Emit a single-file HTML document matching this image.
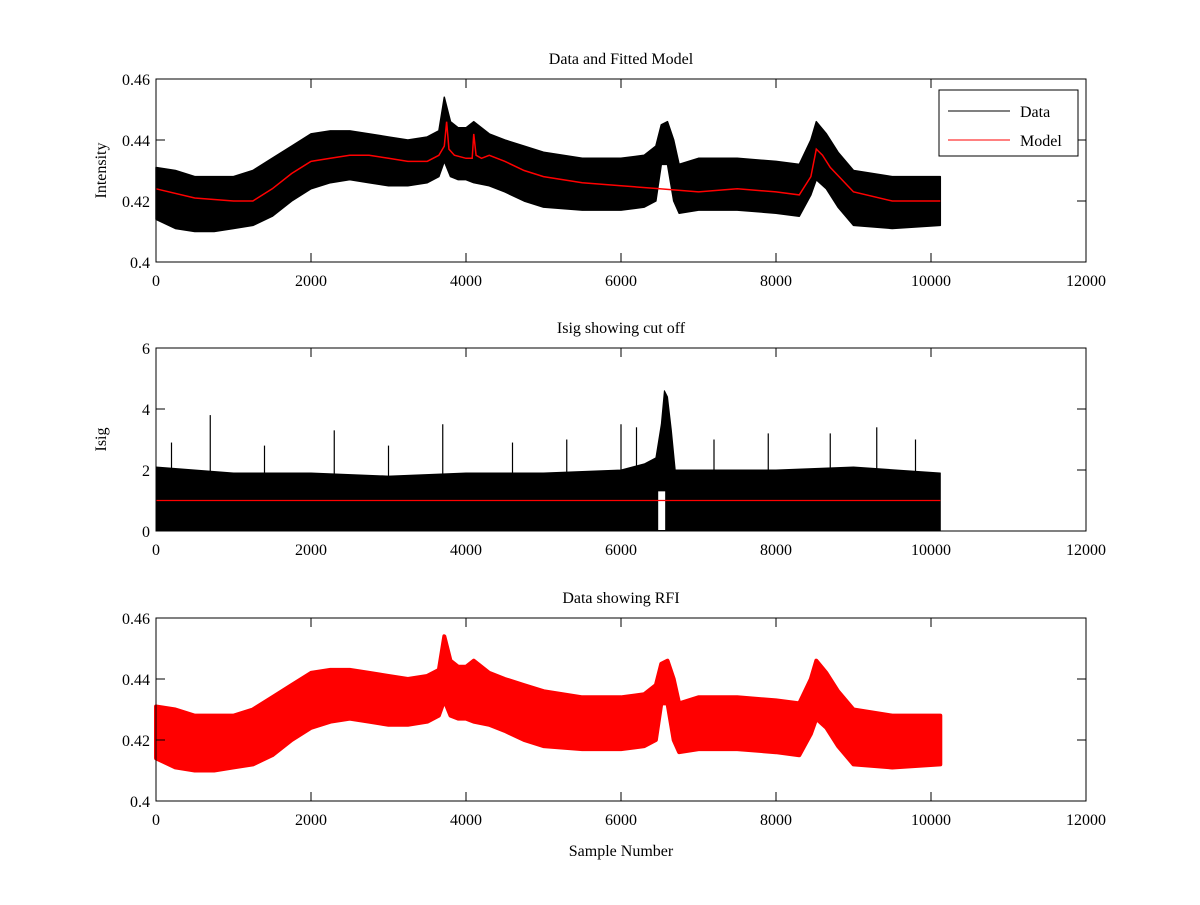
<!DOCTYPE html>
<html><head><meta charset="utf-8"><style>
body{margin:0;background:#fff}
svg text{font-family:"Liberation Serif",serif;font-size:16px;fill:#000}
</style></head><body>
<svg id="c" width="1200" height="900" xmlns="http://www.w3.org/2000/svg"></svg>
<script>
// ---- data ----
const xTicks=[0,2000,4000,6000,8000,10000,12000];
const intTicks=[0.4,0.42,0.44,0.46];
const isigTicks=[0,2,4,6];
const envX=[0,250,500,750,1000,1250,1500,1750,2000,2250,2500,2750,3000,3250,3500,3650,3720,3800,3900,4000,4100,4300,4500,4750,5000,5500,6000,6300,6450,6520,6600,6680,6750,7000,7500,8000,8300,8450,8520,8650,8800,9000,9500,10120];
const envUp=[0.431,0.430,0.428,0.428,0.428,0.430,0.434,0.438,0.442,0.443,0.443,0.442,0.441,0.440,0.441,0.443,0.454,0.446,0.444,0.444,0.446,0.442,0.440,0.438,0.436,0.434,0.434,0.435,0.438,0.445,0.446,0.440,0.432,0.434,0.434,0.433,0.432,0.440,0.446,0.442,0.436,0.430,0.428,0.428];
const envLo=[0.414,0.411,0.410,0.410,0.411,0.412,0.415,0.420,0.424,0.426,0.427,0.426,0.425,0.425,0.426,0.428,0.433,0.428,0.427,0.427,0.426,0.425,0.423,0.420,0.418,0.417,0.417,0.418,0.420,0.432,0.432,0.420,0.416,0.417,0.417,0.416,0.415,0.422,0.427,0.424,0.418,0.412,0.411,0.412];
const modelX=[0,500,1000,1250,1500,1750,2000,2250,2500,2750,3000,3250,3500,3650,3720,3750,3780,3850,4000,4080,4100,4130,4200,4300,4500,4750,5000,5500,6000,6500,7000,7500,8000,8300,8450,8520,8600,8700,9000,9500,10120];
const modelY=[0.424,0.421,0.420,0.420,0.424,0.429,0.433,0.434,0.435,0.435,0.434,0.433,0.433,0.435,0.438,0.446,0.437,0.435,0.434,0.434,0.442,0.435,0.434,0.435,0.433,0.430,0.428,0.426,0.425,0.424,0.423,0.424,0.423,0.422,0.428,0.437,0.435,0.431,0.423,0.420,0.420];
const isigX=[0,500,1000,2000,3000,4000,5000,6000,6300,6450,6520,6560,6600,6650,6700,7000,8000,9000,10120];
const isigUp=[2.1,2.0,1.9,1.9,1.8,1.9,1.9,2.0,2.2,2.4,3.5,4.6,4.4,3.3,2.0,2.0,2.0,2.1,1.9];
const spikeX=[200,700,1400,2300,3000,3700,4600,5300,6000,6200,7200,7900,8700,9300,9800];
const spikeY=[2.9,3.8,2.8,3.3,2.8,3.5,2.9,3.0,3.5,3.4,3.0,3.2,3.2,3.4,3.0];
const cutoff=1;

const svg=document.getElementById('c');
const NS='http://www.w3.org/2000/svg';
function el(t,a,p){const e=document.createElementNS(NS,t);for(const k in a)e.setAttribute(k,a[k]);(p||svg).appendChild(e);return e;}
const L=156,R=1086;
const sx=v=>L+(v/12000)*(R-L);
function axes(top,bot,ymin,ymax,yt,fmt,name,title,ylabel){
  const g=el('g',{});
  
  
  const sy=v=>bot-(v-ymin)/(ymax-ymin)*(bot-top);
  return {g,sy,top,bot,finish(){
    el('rect',{x:L,y:top,width:R-L,height:bot-top,fill:'none',stroke:'#000','stroke-width':1},g);
    xTicks.forEach(t=>{const x=sx(t);
      el('line',{x1:x,x2:x,y1:bot,y2:bot-9,stroke:'#000'},g);
      el('line',{x1:x,x2:x,y1:top,y2:top+9,stroke:'#000'},g);
      const tx=el('text',{x:x,y:bot+24,'text-anchor':'middle'},g);tx.textContent=t;
      });
    yt.forEach(t=>{const y=sy(t);
      el('line',{x1:L,x2:L+9,y1:y,y2:y,stroke:'#000'},g);
      el('line',{x1:R,x2:R-9,y1:y,y2:y,stroke:'#000'},g);
      const tx=el('text',{x:L-6,y:y+6,'text-anchor':'end'},g);tx.textContent=fmt(t);
      });
    const tt=el('text',{x:(L+R)/2,y:top-15,'text-anchor':'middle'},g);tt.textContent=title;
    
    if(ylabel){const yl=el('text',{x:0,y:0,'text-anchor':'middle',transform:`translate(106,${(top+bot)/2}) rotate(-90)`},g);yl.textContent=ylabel;
      }
  }};
}
function band(ax,X,U,Lo,color,w){
  let d='M'+X.map((x,i)=>sx(x)+','+ax.sy(U[i])).join('L');
  for(let i=X.length-1;i>=0;i--)d+='L'+sx(X[i])+','+ax.sy(Lo[i]);
  const p=el('path',{d:d+'Z',fill:color,stroke:color,'stroke-width':w,'stroke-linejoin':'round'},ax.g);
  return p;
}
const fmt2=v=>v===0.4?'0.4':v.toFixed(2);
// plot 1
const a1=axes(79,262,0.4,0.46,intTicks,fmt2,'data-model-plot','Data and Fitted Model','Intensity');
const b1=band(a1,envX,envUp,envLo,'#000',1.5);

const m1=el('path',{d:'M'+modelX.map((x,i)=>sx(x)+','+a1.sy(modelY[i])).join('L'),fill:'none',stroke:'#f00','stroke-width':1.5},a1.g);

a1.finish();
// legend
const lg=el('g',{});

el('rect',{x:939,y:90,width:139,height:66,fill:'#fff',stroke:'#000'},lg);
el('line',{x1:948,x2:1010,y1:111,y2:111,stroke:'#000'},lg);
el('line',{x1:948,x2:1010,y1:140,y2:140,stroke:'#f00'},lg);
const t1=el('text',{x:1020,y:117},lg);t1.textContent='Data';
const t2=el('text',{x:1020,y:146},lg);t2.textContent='Model';
// plot 2
const a2=axes(348,531,0,6,isigTicks,v=>String(v),'isig-plot','Isig showing cut off','Isig');
const b2=band(a2,isigX,isigUp,isigX.map(()=>0),'#000',1);

spikeX.forEach((x,i)=>{const s=el('line',{x1:sx(x),x2:sx(x),y1:a2.sy(0),y2:a2.sy(spikeY[i]),stroke:'#000','stroke-width':1.2},a2.g);
  });
const gap=el('rect',{x:sx(6480),y:a2.sy(1.3),width:sx(6570)-sx(6480),height:a2.sy(0)-a2.sy(1.3)-1,fill:'#fff'},a2.g);
const c2=el('line',{x1:sx(0),x2:sx(10120),y1:a2.sy(cutoff),y2:a2.sy(cutoff),stroke:'#f00','stroke-width':1.2},a2.g);

a2.finish();
// plot 3
const a3=axes(618,801,0.4,0.46,intTicks,fmt2,'rfi-plot','Data showing RFI',null);
const b3=band(a3,envX,envUp,envLo,'#f00',4);

a3.finish();
const xl=el('text',{x:621,y:856,'text-anchor':'middle'});xl.textContent='Sample Number';

</script>
</body></html>
